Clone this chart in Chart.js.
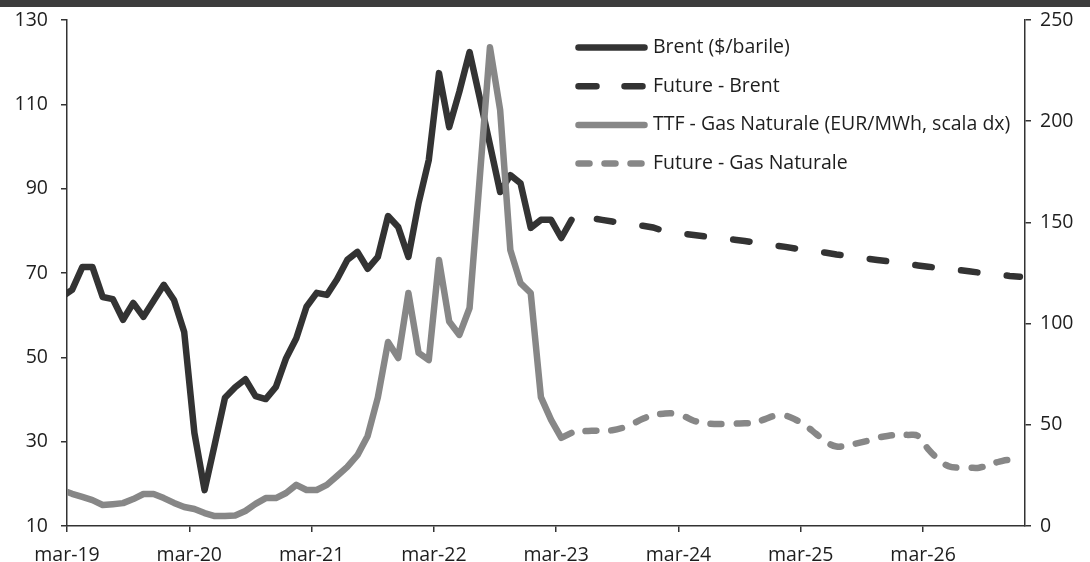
<!DOCTYPE html>
<html>
<head>
<meta charset="utf-8">
<script src="https://cdn.jsdelivr.net/npm/chart.js@4/dist/chart.umd.min.js"></script>
<style>
html, body { margin: 0; padding: 0; background: #fff; }
</style>
</head>
<body>
<canvas id="grafico" width="1090" height="562"></canvas>
<script>
// etichette asse x (una ogni 12 mesi, da mar-19)
var etichette = ['mar-19', 'mar-20', 'mar-21', 'mar-22', 'mar-23', 'mar-24', 'mar-25', 'mar-26']

// Brent mensile ($/barile), da feb-19 ad apr-23
var brent = [64.4, 66, 71.4, 71.4, 64.3, 63.8, 58.9, 62.9, 59.6, 63.4, 67.2,
	63.6, 56, 32.1, 18.5, 29.4, 40.4, 42.9, 44.8, 40.8, 40.1, 43, 49.8,
	54.5, 62, 65.3, 64.8, 68.5, 73.1, 75, 71, 73.8, 83.5, 80.9, 73.8,
	86.6, 96.8, 117.4, 104.6, 113, 122.4, 111.5, 100.4, 89.2, 93.2, 91.3, 80.7,
	82.6, 82.6, 78.3, 82.6]

// future Brent, da apr-23 a dic-26
var brent_future = [82.6, 83.3, 83.0, 82.6, 82.2, 81.8, 81.5, 81.2, 80.8,
	80.0, 79.7, 79.3, 79.0, 78.7, 78.3, 78.1, 77.9, 77.6, 77.2, 76.8, 76.5,
	76.2, 75.8, 75.4, 75.1, 74.8, 74.4, 74.1, 73.7, 73.4, 73.1, 72.8, 72.4,
	72.1, 71.8, 71.5, 71.2, 71.0, 70.7, 70.4, 70.1, 69.9, 69.6, 69.3, 69.1]

// TTF mensile (EUR/MWh), da feb-19 ad apr-23
var ttf = [17.8, 15.9, 14.4, 12.8, 10.4, 10.8, 11.3, 13.3, 15.8, 15.8, 13.8,
	11.4, 9.4, 8.4, 6.4, 4.9, 5.0, 5.2, 7.4, 10.9, 13.8, 13.8, 16.3,
	20.3, 17.8, 17.8, 20.3, 24.7, 29.2, 35, 44.5, 63.5, 90.9, 83, 115.1,
	85.5, 82, 131.4, 101, 94.4, 107.7, 172, 236.5, 205.5, 136.4, 120, 115.1,
	63.7, 52.4, 43.5, 46]

// future TTF, da apr-23 a dic-26
var ttf_future = [46, 46.8, 47, 47.2, 47.3, 48.5, 50.5, 53, 54.8,
	55.5, 55.6, 54.3, 52, 50.9, 50.4, 50.4, 50.6, 50.8, 51, 52.8, 54.5,
	54.5, 52.5, 49.5, 45.5, 41.5, 39.3, 39.8, 40.8, 42, 43.5, 44.5,
	45, 45, 44.5, 38, 33, 29.5, 28.8, 28.8, 28.8, 30.3, 31.8, 32.6, 31.6]

// mesi da mar-19 (0) del primo valore di ogni serie
var inizio_storico = -1
var inizio_future = 49

function punti(valori, inizio){
	return valori.map(function(v, i){ return {x: inizio + i + 0.5, y: v} })
}

var font = {family: "'Open Sans', sans-serif", size: 19.5}
var nero = '#333333'
var grigio = '#878787'

var legenda = {
	id: 'legenda',
	beforeDraw: function(chart){
		var ctx = chart.ctx
		ctx.save()
		ctx.fillStyle = '#3c3c3c'
		ctx.fillRect(0, 0, 1090, 7)
		ctx.restore()
	},
	afterDraw: function(chart){
		var ctx = chart.ctx
		var trattini = [[], [18, 28], [], [11, 15]]
		ctx.save()
		chart.data.datasets.forEach(function(ds, i){
			var y = 47.5 + i * 38.7
			ctx.strokeStyle = ds.borderColor
			ctx.lineWidth = 6.5
			ctx.lineCap = 'round'
			ctx.setLineDash(trattini[i])
			ctx.beginPath()
			ctx.moveTo(578.5, y)
			ctx.lineTo(644.5, y)
			ctx.stroke()
			ctx.setLineDash([])
			ctx.fillStyle = '#1e1e1e'
			ctx.font = font.size + 'px ' + font.family
			ctx.textBaseline = 'middle'
			ctx.fillText(ds.label, 653, y)
		})
		ctx.restore()
	}
}

var griglia = {display: true, drawOnChartArea: false, drawTicks: true, tickLength: 6, color: nero, lineWidth: 1.5}
var bordo = {display: true, color: nero, width: 1.5}

// niente spazio extra sopra/sotto per le etichette degli assi verticali
function larghezza(w){
	return function(s){
		s.width = w
		s.paddingTop = 0
		s.paddingBottom = 0
	}
}

new Chart(document.getElementById('grafico'), {
	type: 'line',
	data: {
		datasets: [{
			label: 'Brent ($/barile)',
			data: punti(brent, inizio_storico),
			yAxisID: 'y',
			borderColor: nero,
			borderWidth: 6.5,
			borderJoinStyle: 'round',
			borderCapStyle: 'round',
			pointRadius: 0,
			tension: 0,
			clip: 0,
			order: 2
		}, {
			label: 'Future - Brent',
			data: punti(brent_future, inizio_future),
			yAxisID: 'y',
			borderColor: nero,
			borderWidth: 6.5,
			borderCapStyle: 'round',
			borderDash: [16.5, 29.5],
			borderDashOffset: 20,
			pointRadius: 0,
			tension: 0,
			clip: 0,
			order: 2
		}, {
			label: 'TTF - Gas Naturale (EUR/MWh, scala dx)',
			data: punti(ttf, inizio_storico),
			yAxisID: 'y2',
			borderColor: grigio,
			borderWidth: 6.5,
			borderJoinStyle: 'round',
			borderCapStyle: 'round',
			pointRadius: 0,
			tension: 0,
			clip: 0,
			order: 1
		}, {
			label: 'Future - Gas Naturale',
			data: punti(ttf_future, inizio_future),
			yAxisID: 'y2',
			borderColor: grigio,
			borderWidth: 6.5,
			borderCapStyle: 'round',
			borderDash: [11, 15],
			borderDashOffset: 12,
			pointRadius: 0,
			tension: 0.4,
			clip: 0,
			order: 1
		}]
	},
	options: {
		responsive: false,
		animation: false,
		devicePixelRatio: 1,
		layout: {padding: {top: 20, left: 0, right: 0, bottom: 0}},
		plugins: {legend: {display: false}, tooltip: {enabled: false}},
		scales: {
			x: {
				type: 'linear',
				min: 0,
				max: 94,
				afterBuildTicks: function(s){
					s.ticks = etichette.map(function(t, i){ return {value: i * 12} })
				},
				ticks: {
					callback: function(v){ return etichette[Math.round(v / 12)] },
					autoSkip: false,
					maxRotation: 0,
					padding: 12,
					color: '#1e1e1e',
					font: font
				},
				grid: griglia,
				border: bordo,
				afterFit: function(s){ s.height = 36 }
			},
			y: {
				position: 'left',
				min: 10,
				max: 130,
				ticks: {stepSize: 20, padding: 13, color: '#1e1e1e', font: font},
				grid: griglia,
				border: bordo,
				afterFit: larghezza(67)
			},
			y2: {
				position: 'right',
				min: 0,
				max: 250,
				ticks: {stepSize: 50, padding: 9, color: '#1e1e1e', font: font},
				grid: griglia,
				border: bordo,
				afterFit: larghezza(65)
			}
		}
	},
	plugins: [legenda]
})
</script>
</body>
</html>
